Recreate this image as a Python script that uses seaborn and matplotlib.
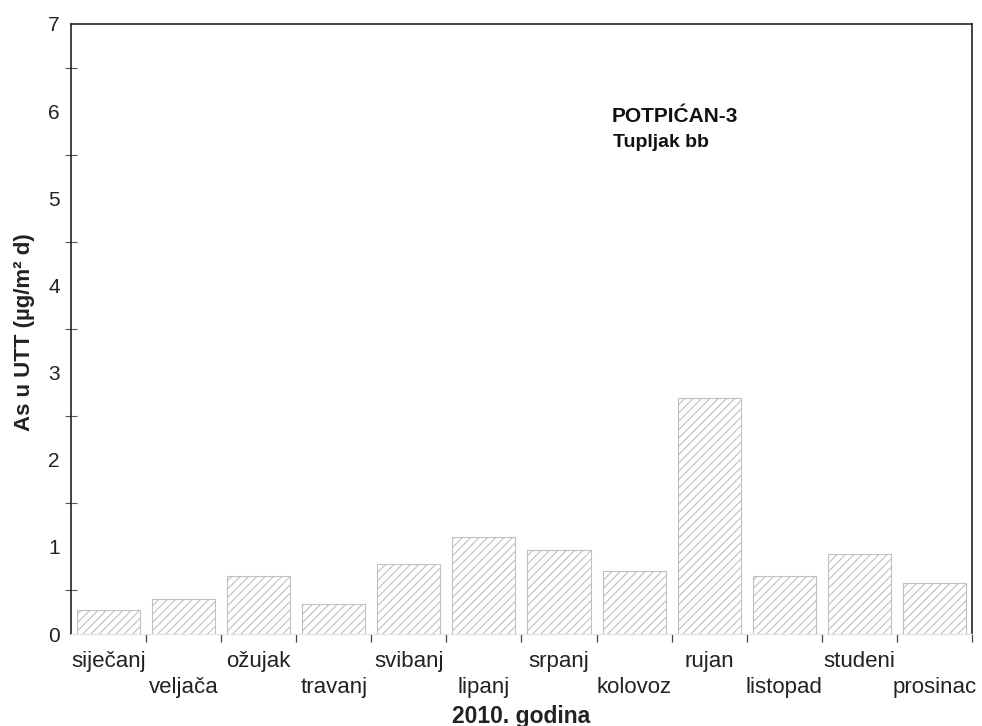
import matplotlib
matplotlib.use("Agg")
import matplotlib.pyplot as plt
import seaborn as sns
import pandas as pd
import numpy as np
from matplotlib.ticker import MultipleLocator, FixedLocator

months = ["siječanj", "veljača", "ožujak", "travanj", "svibanj", "lipanj",
          "srpanj", "kolovoz", "rujan", "listopad", "studeni", "prosinac"]
values = [0.28, 0.40, 0.66, 0.34, 0.80, 1.11, 0.96, 0.72, 2.71, 0.66, 0.915, 0.58]
y_label = "As u UTT (µg/m² d)"
x_label = "2010. godina"
title1 = "POTPIĆAN-3"
title2 = "Tupljak bb"

sns.set_style("white")
plt.rcParams['font.family'] = ['Liberation Sans', 'DejaVu Sans']
plt.rcParams['hatch.color'] = '#b8b8be'
plt.rcParams['hatch.linewidth'] = 0.8

df = pd.DataFrame({"month": months, "value": values})

fig = plt.figure(figsize=(9.82, 7.26), dpi=100)
ax = fig.add_axes([0.0723, 0.1267, 0.9175, 0.8403])

sns.barplot(data=df, x="month", y="value", ax=ax, color="white",
            width=0.84, edgecolor="#c0c0c0", linewidth=0.8, hatch="////",
            saturation=1)

ax.set_xlim(-0.5, 11.5)
ax.set_ylim(0, 7)

# spines
for s in ["left", "top", "right"]:
    ax.spines[s].set_color("#222222")
    ax.spines[s].set_linewidth(1.2)
ax.spines["bottom"].set_color("#e2e2e2")
ax.spines["bottom"].set_linewidth(0.8)

# y ticks
ax.yaxis.set_major_locator(MultipleLocator(1))
ax.yaxis.set_minor_locator(MultipleLocator(0.5))
ax.tick_params(axis="y", which="major", direction="out", length=7, width=1,
               color="#333333", labelsize=15, pad=1, labelcolor="#222222")
ax.tick_params(axis="y", which="minor", direction="inout", length=8, width=0.8,
               color="#555555", left=True)

# x ticks: labels at centers, tick marks at boundaries
ax.set_xticks(range(len(months)))
ax.set_xticklabels(months)
ax.xaxis.set_minor_locator(FixedLocator(np.arange(0.5, 12, 1)))
ax.tick_params(axis="x", which="major", length=0, labelsize=16, pad=12,
               labelcolor="#222222")
ax.tick_params(axis="x", which="minor", direction="out", length=6, width=0.9,
               color="#444444", bottom=True)
for i, t in enumerate(ax.xaxis.get_major_ticks()):
    if i % 2 == 1:
        t.set_pad(31)

ax.set_xlabel(x_label, fontsize=16.5, fontweight="bold", color="#222222")
ax.xaxis.set_label_coords(0.5, -0.1344)
ax.xaxis.label.set_va("center")
ax.set_ylabel(y_label, fontsize=16, fontweight="bold", color="#222222")
ax.yaxis.set_label_coords(-0.052, 0.495)
ax.yaxis.label.set_va("center")

ax.text(0.600, 0.848, title1, transform=ax.transAxes, fontsize=15,
        fontweight="bold", va="center", ha="left", color="#111111")
ax.text(0.602, 0.805, title2, transform=ax.transAxes, fontsize=14,
        fontweight="bold", va="center", ha="left", color="#111111")

fig.savefig("out.png", dpi=100)
